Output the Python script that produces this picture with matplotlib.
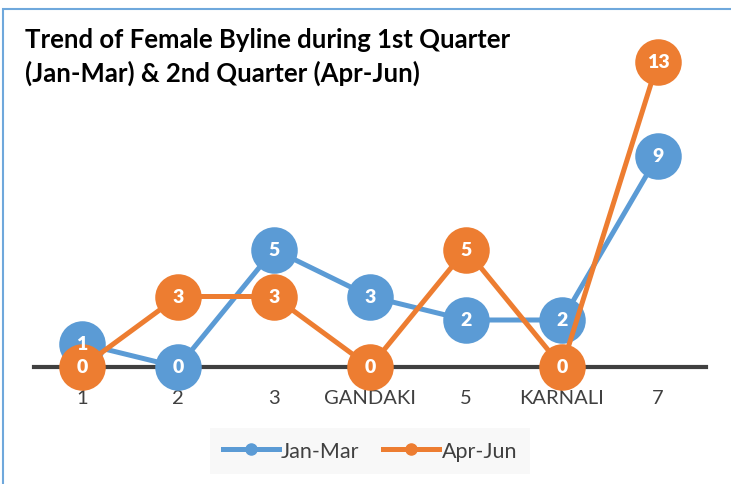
import matplotlib
matplotlib.use('Agg')
import matplotlib.pyplot as plt
from matplotlib.patches import Rectangle

categories = ['1', '2', '3', 'GANDAKI', '5', 'KARNALI', '7']
jan_mar = [1, 0, 5, 3, 2, 2, 9]
apr_jun = [0, 3, 3, 0, 5, 0, 13]
series_names = ['Jan-Mar', 'Apr-Jun']

BLUE = '#5B9BD5'
ORANGE = '#ED7D31'
GREY = '#404040'

plt.rcParams['font.family'] = ['Lato', 'DejaVu Sans']

fig = plt.figure(figsize=(7.31, 4.85), dpi=100)
ax = fig.add_axes([34 / 731, 117 / 485, 672 / 731, 329 / 485])

x = list(range(len(categories)))
for vals, col, name, z in [(jan_mar, BLUE, series_names[0], 3),
                           (apr_jun, ORANGE, series_names[1], 4)]:
    ax.plot(x, vals, color=col, lw=3.6, marker='o', markersize=33.5,
            markeredgewidth=0, solid_capstyle='round', zorder=z,
            clip_on=False, label=name)

for vals in (jan_mar, apr_jun):
    for xi, v in zip(x, vals):
        ax.text(xi, v, str(v), ha='center', va='center', color='white',
                fontsize=14, fontweight='heavy', zorder=6)

ax.set_xlim(-0.5, 6.5)
ax.set_ylim(0, 14)
ax.set_xticks(x)
ax.set_xticklabels(categories, fontsize=14.5, color=GREY)
ax.tick_params(axis='x', length=0, pad=16)
ax.set_yticks([])
for s in ['top', 'right', 'left']:
    ax.spines[s].set_visible(False)
ax.spines['bottom'].set_color(GREY)
ax.spines['bottom'].set_linewidth(3)
ax.spines['bottom'].set_zorder(2)

# legend handles use smaller markers
h1, = ax.plot([], [], color=BLUE, lw=3.6, marker='o', markersize=8, label=series_names[0])
h2, = ax.plot([], [], color=ORANGE, lw=3.6, marker='o', markersize=8, label=series_names[1])
leg = fig.legend(handles=[h1, h2], loc='center', bbox_to_anchor=(370 / 731, 1 - 452 / 485),
                 ncol=2, frameon=True, fontsize=15.5, handlelength=2.6,
                 handletextpad=0.1, columnspacing=1.1, borderpad=0.6)
leg.get_frame().set_facecolor('#f7f7f7')
leg.get_frame().set_edgecolor('none')
leg.get_frame().set_boxstyle('square', pad=0)
for t in leg.get_texts():
    t.set_color(GREY)

title_lines = ['Trend of Female Byline during 1st Quarter', '(Jan-Mar) & 2nd Quarter (Apr-Jun)']
for i, line in enumerate(title_lines):
    fig.text(25 / 731, 1 - (48 + 34 * i) / 485, line, ha='left', va='baseline',
             fontsize=18.5, fontweight='bold', color='black')

fig.patches.append(Rectangle((3 / 731, -0.1), 1.1, 1 - 10 / 485 + 0.1, transform=fig.transFigure,
                             fill=False, edgecolor='#6FA8DC', lw=1.5, zorder=0))

fig.savefig('out.png', dpi=100)
